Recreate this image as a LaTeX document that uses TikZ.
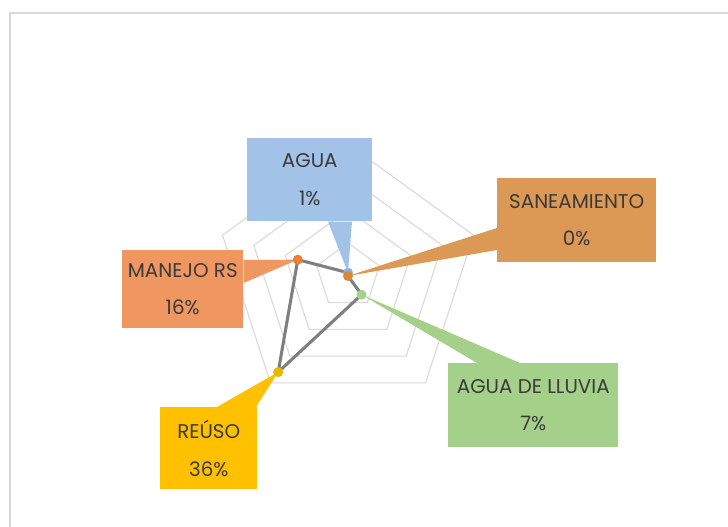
\documentclass[tikz,border=0pt]{standalone}
\usepackage{fontspec}
\setmainfont{Poppins}
\usetikzlibrary{calc}

\definecolor{gridgray}{HTML}{D9D9D9}
\definecolor{linegray}{HTML}{7F7F7F}
\definecolor{txt}{HTML}{3A3A3A}
\definecolor{cAgua}{HTML}{A2C2E8}
\definecolor{cSan}{HTML}{DB9955}
\definecolor{cMan}{HTML}{F09660}
\definecolor{cReu}{HTML}{FFC000}
\definecolor{cLlu}{HTML}{A4D08A}
\definecolor{dAgua}{HTML}{8DB3E2}
\definecolor{dSan}{HTML}{D8883C}
\definecolor{dMan}{HTML}{ED7D31}
\definecolor{dReu}{HTML}{E8B800}
\definecolor{dLlu}{HTML}{A9D18E}

\tikzset{
  gridline/.style={draw=gridgray, line width=0.8pt},
  series/.style={draw=linegray, line width=2.3pt, line join=round},
  callout/.style={rectangle, inner sep=0pt, anchor=north west, text=txt,
    align=center, font={\fontsize{14.9}{28}\selectfont}},
  dot/.style={circle, inner sep=0pt, minimum size=7.5pt},
}

\begin{document}
\begin{tikzpicture}[x=0.75pt, y=-0.75pt]
\useasboundingbox (0,0) rectangle (728,527);
\fill[white] (0,0) rectangle (728,527);
% chart frame (runs off the right and bottom edges)
\draw[gridgray, line width=1.2pt] (740,13) -- (10,13) -- (10,540);

% radar grid: four pentagonal rings, 10% each
\begin{scope}[shift={(348,276)}]
\foreach \r in {33,66,99,132}
  \draw[gridline] (-90:\r) -- (-18:\r) -- (54:\r) -- (126:\r) -- (198:\r) -- cycle;
% data points (radius 3.3 per percent)
\coordinate (pAgua) at (-90:3.3);
\coordinate (pSan)  at (0,0);
\coordinate (pLlu)  at (54:23.1);
\coordinate (pReu)  at (126:118.8);
\coordinate (pMan)  at (198:52.8);
\end{scope}

% series outline
\draw[series] (pAgua) -- (pSan) -- (pLlu) -- (pReu) -- (pMan) -- cycle;

% callout boxes
\node[callout, fill=cAgua, minimum width=125*0.75pt, minimum height=83*0.75pt] (agua) at (247,138) {AGUA\\1\%};
\node[callout, fill=cSan, minimum width=159*0.75pt, minimum height=84*0.75pt] (san) at (497,178) {SANEAMIENTO\\0\%};
\node[callout, fill=cMan, minimum width=121*0.75pt, minimum height=78*0.75pt] (man) at (122,250) {MANEJO RS\\16\%};
\node[callout, fill=cReu, minimum width=97*0.75pt, minimum height=82*0.75pt] (reu) at (160,407) {REÚSO\\36\%};
\node[callout, fill=cLlu, minimum width=170*0.75pt, minimum height=84*0.75pt] (llu) at (448,363) {AGUA DE LLUVIA\\7\%};

% callout pointers
\fill[cAgua] ($(agua.south west)+(81,0)$) -- (pAgua) -- ($(agua.south west)+(105,0)$) -- cycle;
\fill[cSan] ($(san.north west)+(0,50)$) -- (pSan) -- ($(san.north west)+(0,72)$) -- cycle;
\fill[cMan] ($(man.north east)+(0,10)$) -- (pMan) -- ($(man.north east)+(0,33)$) -- cycle;
\fill[cReu] ($(reu.north west)+(57,0)$) -- (pReu) -- ($(reu.north west)+(96,0)$) -- cycle;
\fill[cLlu] ($(llu.north west)+(29,0)$) -- (pLlu) -- ($(llu.north west)+(72,0)$) -- cycle;

% markers
\node[dot, fill=dAgua] (mAgua) at (pAgua) {};
\node[dot, fill=dSan]  (mSan)  at (pSan)  {};
\node[dot, fill=dLlu]  (mLlu)  at (pLlu)  {};
\node[dot, fill=dReu]  (mReu)  at (pReu)  {};
\node[dot, fill=dMan]  (mMan)  at (pMan)  {};
\end{tikzpicture}
\end{document}
